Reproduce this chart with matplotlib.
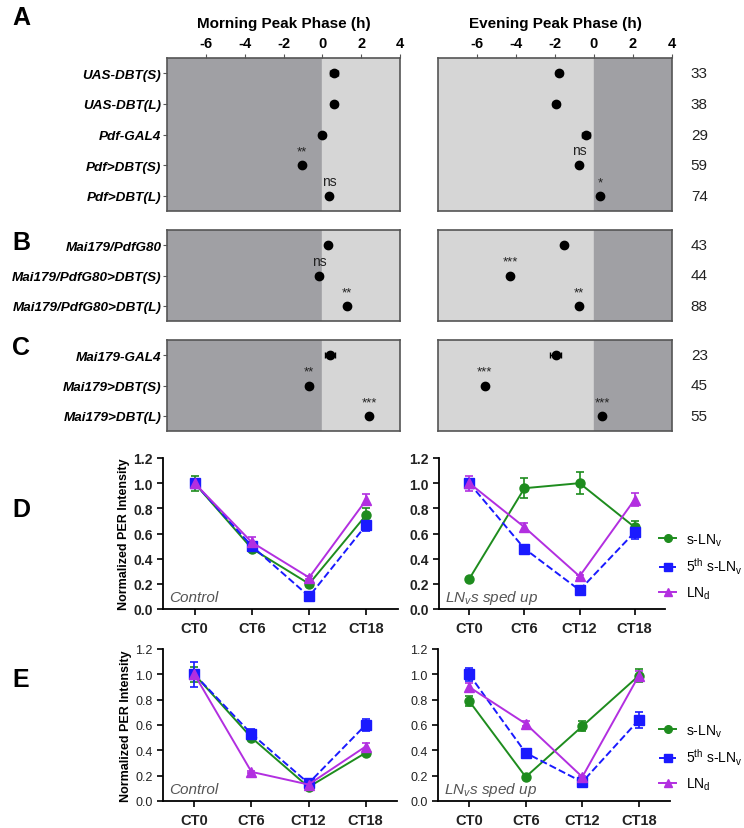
import matplotlib.pyplot as plt
from matplotlib.lines import Line2D
import numpy as np

plt.rcParams['font.family'] = ['Liberation Sans', 'DejaVu Sans']
plt.rcParams['mathtext.fontset'] = 'custom'
plt.rcParams['mathtext.rm'] = 'Liberation Sans'
plt.rcParams['mathtext.it'] = 'Liberation Sans:italic'

W, H = 744, 829

# phase panels (A-C)
genotypes_a = ["UAS-DBT(S)", "UAS-DBT(L)", "Pdf-GAL4", "Pdf>DBT(S)", "Pdf>DBT(L)"]
morning_a = [0.62, 0.62, -0.03, -1.05, 0.36]
morning_a_err = [0.2, 0.15, 0.15, 0.12, 0.1]
evening_a = [-1.79, -1.96, -0.41, -0.77, 0.33]
evening_a_err = [0.15, 0.15, 0.18, 0.1, 0.1]
n_a = [33, 38, 29, 59, 74]
sig_morning_a = ["", "", "", "**", "ns"]
sig_evening_a = ["", "", "", "ns", "*"]

genotypes_b = ["Mai179/PdfG80", "Mai179/PdfG80>DBT(S)", "Mai179/PdfG80>DBT(L)"]
morning_b = [0.31, -0.17, 1.25]
morning_b_err = [0.08, 0.15, 0.08]
evening_b = [-1.55, -4.29, -0.76]
evening_b_err = [0.08, 0.1, 0.08]
n_b = [43, 44, 88]
sig_morning_b = ["", "ns", "**"]
sig_evening_b = ["", "***", "**"]

genotypes_c = ["Mai179-GAL4", "Mai179>DBT(S)", "Mai179>DBT(L)"]
morning_c = [0.39, -0.67, 2.42]
morning_c_err = [0.25, 0.15, 0.1]
evening_c = [-1.97, -5.6, 0.41]
evening_c_err = [0.3, 0.1, 0.1]
n_c = [23, 45, 55]
sig_morning_c = ["", "**", "***"]
sig_evening_c = ["", "***", "***"]

# PER intensity panels (D, E)
timepoints = ["CT0", "CT6", "CT12", "CT18"]
series_names = ["s-LN$_\\mathregular{v}$", "5$^\\mathregular{th}$ s-LN$_\\mathregular{v}$", "LN$_\\mathregular{d}$"]

d_ctrl = [[1.0, 0.48, 0.20, 0.75], [1.0, 0.50, 0.10, 0.67], [1.0, 0.53, 0.25, 0.87]]
d_ctrl_err = [[0.06, 0.02, 0.01, 0.05], [0.03, 0.02, 0.01, 0.05], [0.03, 0.04, 0.01, 0.04]]
d_fast = [[0.24, 0.96, 1.0, 0.65], [1.0, 0.48, 0.15, 0.61], [1.0, 0.65, 0.26, 0.87]]
d_fast_err = [[0.01, 0.08, 0.09, 0.05], [0.03, 0.03, 0.01, 0.05], [0.06, 0.03, 0.01, 0.05]]

e_ctrl = [[1.0, 0.50, 0.11, 0.38], [1.0, 0.53, 0.14, 0.60], [1.0, 0.23, 0.13, 0.43]]
e_ctrl_err = [[0.06, 0.02, 0.01, 0.02], [0.1, 0.04, 0.02, 0.05], [0.03, 0.01, 0.01, 0.03]]
e_fast = [[0.79, 0.19, 0.59, 0.99], [1.0, 0.38, 0.15, 0.64], [0.90, 0.61, 0.19, 0.99]]
e_fast_err = [[0.04, 0.01, 0.04, 0.05], [0.05, 0.02, 0.01, 0.06], [0.03, 0.02, 0.01, 0.04]]

colors = ["#1e8c1e", "#1a1aff", "#b22fe0"]
markers = ["o", "s", "^"]
styles = ["-", "--", "-"]

DARK = "#a0a0a4"
LIGHT = "#d6d6d6"


def rect(x0, y0, x1, y1):
    return [x0 / W, 1 - y1 / H, (x1 - x0) / W, (y1 - y0) / H]


fig = plt.figure(figsize=(W / 100, H / 100), dpi=100)


def phase_panel(box, vals, errs, sigs, morning, labels=None, top_ticks=False, ns=None):
    ax = fig.add_axes(rect(*box))
    n = len(vals)
    y = np.arange(n)
    ax.set_xlim(-8, 4)
    ax.set_ylim(n - 0.5, -0.5)
    left_c, right_c = (DARK, LIGHT) if morning else (LIGHT, DARK)
    ax.axvspan(-8, 0, color=left_c, zorder=0)
    ax.axvspan(0, 4, color=right_c, zorder=0)
    ax.errorbar(vals, y, xerr=errs, fmt="o", color="black", ms=6,
                capsize=2.5, elinewidth=1, capthick=1, zorder=3)
    for v, yy, s in zip(vals, y, sigs):
        if s:
            ax.text(v, yy - 0.25, s, ha="center", va="bottom", fontsize=10 if s == "ns" else 9.5,
                    color="#222222")
    for sp in ax.spines.values():
        sp.set_color("#555555")
        sp.set_linewidth(1.2)
    if labels is not None:
        ax.set_yticks(y)
        ax.set_yticklabels(labels, fontsize=9.7, fontweight="bold", fontstyle="italic")
        ax.tick_params(axis="y", length=3, color="#555555", pad=1)
    else:
        ax.set_yticks([])
    if top_ticks:
        ax.xaxis.tick_top()
        ax.set_xticks([-6, -4, -2, 0, 2, 4])
        ax.set_xticklabels(["-6", "-4", "-2", "0", "2", "4"], fontsize=10.5, fontweight="bold")
        ax.tick_params(axis="x", length=3, color="#555555", pad=3)
    else:
        ax.set_xticks([])
    if ns is not None:
        for yy, v in zip(y, ns):
            ax.text(5.4, yy, str(v), ha="center", va="center", fontsize=11, color="#222222")
    return ax


axA1 = phase_panel((167, 59, 400, 212), morning_a, morning_a_err, sig_morning_a, True,
                   genotypes_a, top_ticks=True)
axA2 = phase_panel((438, 59, 672, 212), evening_a, evening_a_err, sig_evening_a, False,
                   top_ticks=True, ns=n_a)
axA1.set_title("Morning Peak Phase (h)", fontsize=11, fontweight="bold", pad=22)
axA2.set_title("Evening Peak Phase (h)", fontsize=11, fontweight="bold", pad=22)

phase_panel((167, 231, 400, 322), morning_b, morning_b_err, sig_morning_b, True, genotypes_b)
phase_panel((438, 231, 672, 322), evening_b, evening_b_err, sig_evening_b, False, ns=n_b)
phase_panel((167, 341, 400, 432), morning_c, morning_c_err, sig_morning_c, True, genotypes_c)
phase_panel((438, 341, 672, 432), evening_c, evening_c_err, sig_evening_c, False, ns=n_c)


def per_panel(box, data, errs, note, bold, ylabel=False, legend_y=None):
    ax = fig.add_axes(rect(*box))
    x = np.arange(len(timepoints))
    for k in range(3):
        ax.errorbar(x, data[k], yerr=errs[k], color=colors[k], marker=markers[k],
                    linestyle=styles[k], ms=6.5, lw=1.4, capsize=3, elinewidth=1.2,
                    capthick=1.2)
    ax.set_xlim(-0.55, 3.55)
    ax.set_ylim(0, 1.2)
    ax.set_yticks(np.arange(0, 1.21, 0.2))
    wt = "bold" if bold else "normal"
    ax.set_yticklabels([f"{v:.1f}" for v in np.arange(0, 1.21, 0.2)], fontsize=10 if bold else 9,
                       fontweight=wt, color="#222222")
    ax.set_xticks(x)
    ax.set_xticklabels(timepoints, fontsize=10.5, fontweight="bold", color="#222222")
    ax.spines["top"].set_visible(False)
    ax.spines["right"].set_visible(False)
    for s in ("left", "bottom"):
        ax.spines[s].set_linewidth(1.3)
    ax.tick_params(length=4, width=1.2)
    ax.tick_params(axis="x", pad=5)
    ax.text(-0.45, 0.06, note, fontsize=11, fontstyle="italic", color="#555555")
    if ylabel:
        ax.set_ylabel("Normalized PER Intensity", fontsize=9, fontweight="bold", labelpad=2)
    if legend_y is not None:
        handles = [Line2D([], [], color=colors[k], marker=markers[k], linestyle=styles[k],
                          ms=5.5, lw=1.4) for k in range(3)]
        ax.legend(handles, series_names, loc="center left",
                  bbox_to_anchor=(659 / W, 1 - legend_y / H), bbox_transform=fig.transFigure,
                  frameon=False, fontsize=10, handlelength=1.25, handletextpad=0.7,
                  labelspacing=0.6, borderaxespad=0, borderpad=0)
    return ax


per_panel((163, 459, 398, 610), d_ctrl, d_ctrl_err, "Control", True, ylabel=True)
per_panel((439, 459, 665, 610), d_fast, d_fast_err, "LN$_\\mathregular{v}$s sped up", True,
          legend_y=567)
per_panel((163, 650, 397, 802), e_ctrl, e_ctrl_err, "Control", False, ylabel=True)
per_panel((438, 650, 670, 802), e_fast, e_fast_err, "LN$_\\mathregular{v}$s sped up", False,
          legend_y=758)

for lab, yp in [("A", 18), ("B", 243), ("C", 348), ("D", 510), ("E", 680)]:
    fig.text(12 / W, 1 - yp / H, lab, fontsize=18, fontweight="bold", va="center")

fig.savefig("out.png", dpi=100)
